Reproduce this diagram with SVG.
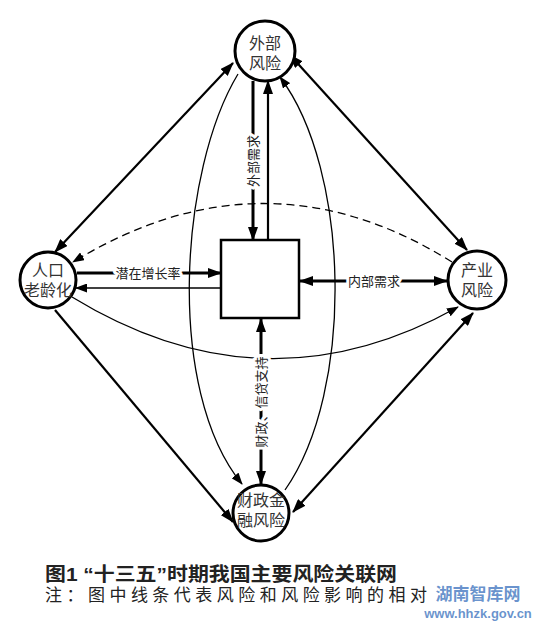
<svg xmlns="http://www.w3.org/2000/svg" width="534" height="621" viewBox="0 0 534 621">
<style>
.ln{fill:none;stroke:#000;}
.th{stroke-width:3;}
.md{stroke-width:2.2;}
.tn{stroke-width:1.3;}
.node circle{fill:#fff;stroke:#000;stroke-width:3;}
.nt{font-family:"Liberation Serif","Noto Sans CJK SC",serif;font-size:16px;fill:#333;text-anchor:middle;}
.lb{font-family:"Liberation Serif","Noto Sans CJK SC",serif;font-size:13px;fill:#222;text-anchor:middle;dominant-baseline:central;stroke:#fff;stroke-width:6px;paint-order:stroke;stroke-linejoin:round;}
</style>
<defs>
<marker id="ah" viewBox="0 0 14 10" refX="13" refY="5" markerWidth="14" markerHeight="10" orient="auto-start-reverse" markerUnits="userSpaceOnUse"><path d="M0,0 L14,5 L0,10 z" fill="#000"/></marker>
<marker id="ahs" viewBox="0 0 12 9" refX="11" refY="4.5" markerWidth="12" markerHeight="9" orient="auto-start-reverse" markerUnits="userSpaceOnUse"><path d="M0,0 L12,4.5 L0,9 z" fill="#000"/></marker>
</defs>
<rect width="534" height="621" fill="#fff"/>
<g id="connectors">
<path class="ln md" d="M233,63 L55,252" marker-start="url(#ah)" marker-end="url(#ah)"/>
<path class="ln md" d="M290,55 L467,250" marker-start="url(#ah)" marker-end="url(#ah)"/>
<path class="ln md" d="M55,310 L233,522" marker-end="url(#ah)"/>
<path class="ln md" d="M473,313 L293,512" marker-start="url(#ah)" marker-end="url(#ah)"/>
<path class="ln th" d="M253,81 L253,240" marker-end="url(#ah)"/>
<path class="ln md" d="M268,240 L268,81" marker-end="url(#ah)"/>
<path class="ln tn" d="M238,74 C180,170 165,390 242,484" marker-end="url(#ahs)"/>
<path class="ln tn" d="M285,490 C355,390 350,170 280,77" marker-end="url(#ahs)"/>
<path class="ln tn" d="M72,297 Q265,415 458,307" marker-end="url(#ahs)"/>
<path class="ln tn" d="M452,262 Q265,145 73,262" stroke-dasharray="8,5" marker-end="url(#ahs)"/>
<path class="ln th" d="M77,273 L221,273" marker-end="url(#ah)"/>
<path class="ln tn" d="M221,288 L76,288" marker-end="url(#ahs)"/>
<path class="ln th" d="M300,281 L447,281" marker-start="url(#ah)" marker-end="url(#ah)"/>
<path class="ln th" d="M261,319 L261,484" marker-start="url(#ah)" marker-end="url(#ah)"/>
<text class="lb" transform="translate(253,161) rotate(-90)">外部需求</text>
<text class="lb" x="148" y="273">潜在增长率</text>
<text class="lb" x="374" y="281">内部需求</text>
<text class="lb" transform="translate(261,402) rotate(-90)">财政、信贷支持</text>
</g>
<g id="center-box"><rect x="221" y="240" width="78" height="78" fill="#fff" stroke="#000" stroke-width="2.5"/></g>
<g id="node-waibu" class="node"><circle cx="265" cy="51" r="30"/><text class="nt" x="265" y="49">外部</text><text class="nt" x="265" y="69">风险</text></g>
<g id="node-renkou" class="node"><circle cx="48" cy="280" r="28"/><text class="nt" x="48" y="276">人口</text><text class="nt" x="48" y="296">老龄化</text></g>
<g id="node-chanye" class="node"><circle cx="477" cy="280" r="29"/><text class="nt" x="477" y="276">产业</text><text class="nt" x="477" y="296">风险</text></g>
<g id="node-caizheng" class="node"><circle cx="261" cy="513" r="28"/><text class="nt" x="261" y="506" font-size="17">财政金</text><text class="nt" x="261" y="526" font-size="17">融风险</text></g>
<g id="caption">
<text x="45" y="581" font-family="'Liberation Sans','Noto Sans CJK SC',sans-serif" font-size="19" font-weight="bold" fill="#222" textLength="352" lengthAdjust="spacingAndGlyphs">图1 “十三五”时期我国主要风险关联网</text>
<text x="45" y="601" font-family="'Liberation Serif','Noto Sans CJK SC',serif" font-size="17" fill="#222" textLength="382" lengthAdjust="spacing">注：图中线条代表风险和风险影响的相对</text>
<text x="478" y="600" text-anchor="middle" font-family="'Noto Sans CJK SC',sans-serif" font-size="17" font-weight="bold" fill="#4f7fc4" fill-opacity="0.85">湖南智库网</text>
<text x="478" y="618" text-anchor="middle" font-family="'Liberation Sans',sans-serif" font-size="13" font-weight="bold" fill="#4f7fc4" fill-opacity="0.85">www.hhzk.gov.cn</text>
</g>
</svg>
